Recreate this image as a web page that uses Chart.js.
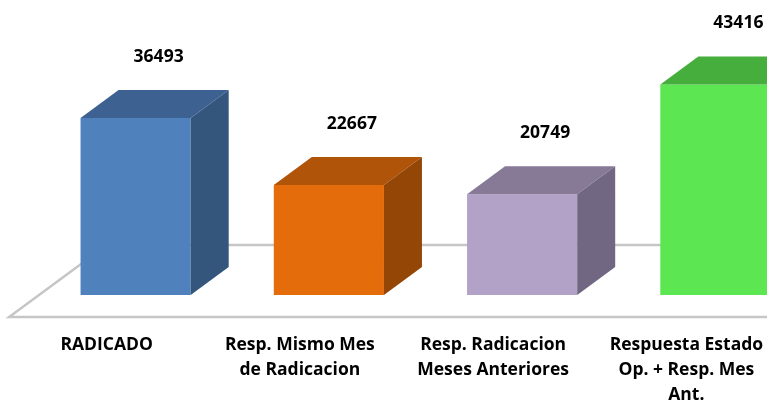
<!DOCTYPE html>
<html>
<head>
<meta charset="utf-8">
<script src="https://cdn.jsdelivr.net/npm/chart.js@4/dist/chart.umd.min.js"></script>
<style>
  html, body { margin: 0; padding: 0; background: #fff; overflow: hidden; }
  .chart-container { position: relative; width: 830px; height: 408px; }
</style>
</head>
<body>
<div class="chart-container"><canvas id="chart"></canvas></div>
<script>
// Category labels (multi-line) and values
const categories = [
  ['RADICADO'],
  ['Resp. Mismo Mes', 'de Radicacion'],
  ['Resp. Radicacion', 'Meses Anteriores'],
  ['Respuesta Estado', 'Op. + Resp. Mes', 'Ant.']
];
const values = [36493, 22667, 20749, 43416];

// Face colours for the fake 3D boxes
const frontColors = ['#4f81bd', '#e46c0a', '#b3a2c7', '#5ce652'];
const topColors = ['#3d6291', '#b0540a', '#877a96', '#45ae3c'];
const sideColors = ['#34567d', '#944606', '#716783', '#3a9432'];

const DEPTH_X = 38;
const DEPTH_Y = 28;
const FONT = 'bold 17.5px "Open Sans", sans-serif';

// Floor outline, 3D box faces and text drawn on top of the regular bars
const box3d = {
  id: 'box3d',
  beforeDatasetsDraw(chart) {
    const { ctx, scales: { x, y } } = chart;
    const base = y.getPixelForValue(0);
    const k = DEPTH_X / DEPTH_Y;
    const front = 22, back = 50;
    ctx.save();
    ctx.strokeStyle = '#c6c6c6';
    ctx.lineWidth = 2.5;
    ctx.beginPath();
    ctx.moveTo(x.right + back * k, base - back);
    ctx.lineTo(x.left + back * k, base - back);
    ctx.lineTo(x.left - front * k, base + front);
    ctx.lineTo(x.right - front * k, base + front);
    ctx.stroke();
    ctx.restore();
  },
  afterDatasetsDraw(chart) {
    const { ctx } = chart;
    const meta = chart.getDatasetMeta(0);
    ctx.save();
    meta.data.forEach((bar, i) => {
      const l = bar.x - bar.width / 2;
      const r = bar.x + bar.width / 2;
      const t = bar.y;
      const b = bar.base;
      // top face
      ctx.fillStyle = topColors[i];
      ctx.beginPath();
      ctx.moveTo(l, t);
      ctx.lineTo(r, t);
      ctx.lineTo(r + DEPTH_X, t - DEPTH_Y);
      ctx.lineTo(l + DEPTH_X, t - DEPTH_Y);
      ctx.closePath();
      ctx.fill();
      // side face
      ctx.fillStyle = sideColors[i];
      ctx.beginPath();
      ctx.moveTo(r, t);
      ctx.lineTo(r + DEPTH_X, t - DEPTH_Y);
      ctx.lineTo(r + DEPTH_X, b - DEPTH_Y);
      ctx.lineTo(r, b);
      ctx.closePath();
      ctx.fill();
    });
    ctx.restore();
  },
  afterDraw(chart) {
    const { ctx } = chart;
    const meta = chart.getDatasetMeta(0);
    ctx.save();
    ctx.font = FONT;
    ctx.fillStyle = '#000';
    ctx.textAlign = 'center';
    ctx.textBaseline = 'middle';
    meta.data.forEach((bar, i) => {
      // value label above the box
      ctx.fillText(String(values[i]), bar.x + 23, bar.y - 61);
      // category label under the floor's front edge
      categories[i].forEach((line, j) => {
        ctx.fillText(line, bar.x - 29, bar.base + 50 + j * 25);
      });
    });
    ctx.restore();
  }
};

new Chart(document.getElementById('chart').getContext('2d'), {
  type: 'bar',
  data: {
    labels: categories,
    datasets: [{
      data: values,
      backgroundColor: frontColors,
      borderWidth: 0,
      barPercentage: 0.57,
      categoryPercentage: 1
    }]
  },
  options: {
    responsive: true,
    maintainAspectRatio: false,
    animation: false,
    layout: { padding: { left: 39, right: 18, top: 4, bottom: 113 } },
    plugins: {
      legend: { display: false },
      tooltip: { enabled: false }
    },
    scales: {
      x: { display: false },
      y: { display: false, min: 0, max: 60000 }
    }
  },
  plugins: [box3d]
});
</script>
</body>
</html>
